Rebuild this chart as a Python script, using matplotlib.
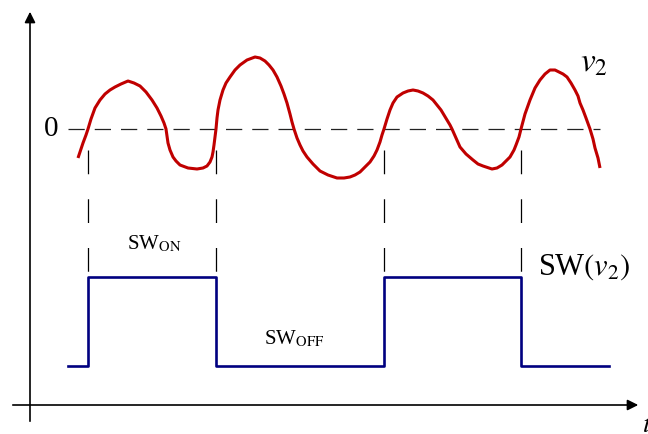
import matplotlib.pyplot as plt
import numpy as np

plt.rcParams['mathtext.fontset'] = 'stix'
plt.rcParams['font.family'] = ['Liberation Serif', 'DejaVu Serif']

# sampled waveform v2(t), zero level at v = 0
t_v2 = [78, 80, 83, 86, 88, 91, 95, 100, 105, 110, 115, 121, 128, 134, 140, 146,
        152, 157, 161, 164, 166,
        167, 168, 170, 173, 176, 180, 188, 197, 203, 207, 210, 212, 213, 214,
        215, 216,
        217, 218, 220, 223, 226, 230, 235, 240, 247, 255, 260, 265, 269, 273,
        277, 281, 284, 287, 290, 292, 294,
        297, 300, 303, 307, 313, 320, 328, 337, 344, 350, 355, 360, 365, 370,
        374, 377, 380, 382, 384,
        387, 390, 393, 397, 403, 408, 413, 418, 423, 428, 433, 437, 441, 444,
        447, 450, 452,
        456, 460, 466, 473, 478, 483, 492, 497, 502, 506, 510, 514, 516, 519, 521,
        525, 530, 535, 540, 545, 550, 555, 559, 563, 567, 571, 575, 578, 580,
        583, 586, 590, 593, 595, 598, 600]
v2 = [-29, -23, -14, -6, 0, 10, 21, 29, 35, 39, 42, 45, 48, 46, 43, 37,
      29, 21, 13, 6, 0,
      -7, -14, -21, -28, -32, -36, -39, -40, -39, -37, -33, -28, -23, -16,
      -8, 0,
      11, 19, 29, 39, 46, 52, 59, 64, 69, 72, 71, 68, 64, 59,
      52, 43, 35, 26, 15, 7, 0,
      -9, -16, -22, -28, -35, -42, -46, -49, -49, -48, -46, -43, -38, -33,
      -27, -21, -13, -6, 0,
      10, 19, 26, 32, 36, 38, 39, 38, 36, 33, 29, 24, 19, 14,
      9, 4, 0,
      -9, -18, -25, -31, -35, -37, -40, -39, -36, -32, -28, -21, -16, -8, 0,
      15, 29, 41, 49, 55, 59, 59, 57, 55, 52, 46, 39, 33, 26,
      19, 11, 0, -10, -19, -29, -39]

# switching signal SW(v2)
sw_t = [68, 88, 216, 384, 521, 609]
sw_state = [0, 1, 0, 1, 0, 0]
sw_low, sw_high = -237, -148
edges = [88, 216, 384, 521]

fig = plt.figure(figsize=(6.48, 4.34), dpi=100)
ax = fig.add_axes([0, 0, 1, 1])
ax.set_xlim(0, 648)
ax.set_ylim(-305, 129)
ax.axis('off')

red = '#c00000'
blue = '#000080'

# zero reference
ax.plot([68, 600], [0, 0], color='#222222', lw=0.9, dashes=(13, 8))
ax.plot(t_v2, v2, color=red, lw=2.2, solid_joinstyle='round', solid_capstyle='butt')

sw = [sw_low + s * (sw_high - sw_low) for s in sw_state]
ax.plot(sw_t, sw, color=blue, lw=1.9, drawstyle='steps-post')

for e in edges:
    ax.plot([e, e], [-21, -146], color='black', lw=0.9, dashes=(19, 20))

# axes arrows
ax.annotate('', xy=(30, 120), xytext=(30, -295),
            arrowprops=dict(arrowstyle='-|>', color='black', lw=1.2, mutation_scale=16))
ax.annotate('', xy=(641, -276), xytext=(10, -276),
            arrowprops=dict(arrowstyle='-|>', color='black', lw=1.2, mutation_scale=16))

ax.text(44, 0, '0', fontsize=21, ha='left', va='center')
ax.text(580, 57, r'$v_2$', fontsize=24, ha='left', va='baseline')
ax.text(538, -146, r'SW$(v_2)$', fontsize=22, ha='left', va='baseline')
ax.text(127, -120, r'SW$_{\mathrm{ON}}$', fontsize=15, ha='left', va='baseline')
ax.text(264, -215, r'SW$_{\mathrm{OFF}}$', fontsize=15, ha='left', va='baseline')
ax.text(642, -303, r'$t$', fontsize=20, ha='left', va='baseline')

fig.savefig('out.png', dpi=100)
